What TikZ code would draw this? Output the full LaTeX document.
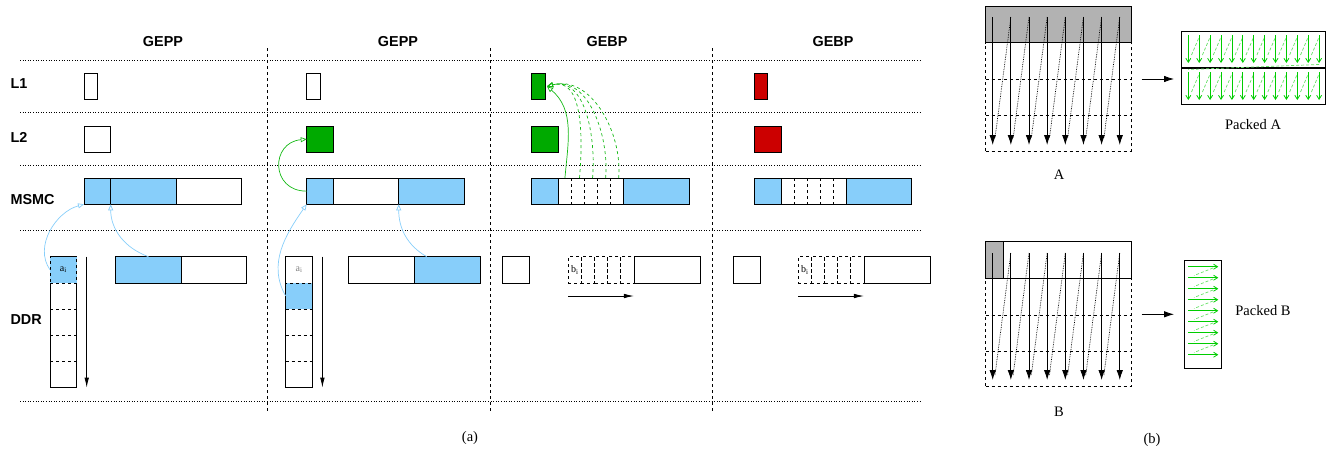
\documentclass[tikz,border=0pt]{standalone}
\usepackage{fontspec}
\setmainfont{Liberation Serif}
\setsansfont{Liberation Sans}
\usepackage{tikz}
\usetikzlibrary{arrows.meta, positioning}
\definecolor{memblue}{RGB}{135,206,250}
\definecolor{cachegreen}{RGB}{0,170,0}
\definecolor{cachered}{RGB}{204,0,0}
\definecolor{flowgreen}{RGB}{20,185,20}
\definecolor{packgreen}{RGB}{0,205,0}
\tikzset{
    box/.style={draw, line width=0.8pt, inner sep=0pt, outer sep=0pt, anchor=north west},
    lonebox/.style={box, minimum width=13.3pt, minimum height=26.7pt},
    ltwobox/.style={box, minimum width=26.6pt, minimum height=26.4pt},
    seg/.style={box, minimum height=26.3pt},
    ddrcell/.style={box, minimum width=26.7pt, minimum height=26.2pt},
    levellabel/.style={anchor=west, font=\sffamily\bfseries\fontsize{14.4}{17}\selectfont},
    kernellabel/.style={font=\sffamily\bfseries\fontsize{14.4}{17}\selectfont},
    caption/.style={font=\fontsize{14.5}{17}\selectfont},
    idx/.style={font=\fontsize{10}{12}\selectfont},
    rowsep/.style={line width=0.6pt, dotted},
    colsep/.style={line width=0.8pt, dashed},
    bluearrow/.style={memblue, line width=0.7pt, -{Triangle[open, length=6pt, width=5pt]}},
    greenarrow/.style={flowgreen, line width=0.7pt, -{Triangle[open, length=6pt, width=5pt]}},
    walk/.style={line width=0.8pt, -{Latex[length=10pt, width=4.5pt]}},
    matwalk/.style={line width=0.8pt, -{Latex[length=10pt, width=6.5pt]}},
    packarrow/.style={packgreen, line width=0.8pt, -{Straight Barb[length=4pt, width=5pt]}},
    packback/.style={packgreen!60, line width=0.7pt, dash pattern=on 3pt off 2pt}
}
\begin{document}
\begin{tikzpicture}[x=1pt, y=-1pt]
\useasboundingbox (0,0) rectangle (1335,453);

% (a)
\foreach \y in {60.5, 112.7, 165, 230.7, 401}
    \draw[rowsep] (20,\y) -- (922,\y);
\foreach \x in {267.5, 490, 712.7}
    \draw[colsep] (\x,48) -- (\x,413);

\node[kernellabel] (k1) at (163,42) {GEPP};
\node[kernellabel] (k2) at (398,42) {GEPP};
\node[kernellabel] (k3) at (607,42) {GEBP};
\node[kernellabel] (k4) at (833,42) {GEBP};

\node[levellabel] (lone) at (7,84) {L1};
\node[levellabel] (ltwo) at (7,137) {L2};
\node[levellabel] (lmsmc) at (7,200) {MSMC};
\node[levellabel] (lddr) at (7,320) {DDR};

% GEPP 1
\node[lonebox] (a1) at (84,73) {};
\node[ltwobox] (b1) at (84,126) {};
\node[seg, fill=memblue, minimum width=26.7pt] (m1a) at (84,178) {};
\node[seg, fill=memblue, minimum width=65.3pt, right=0pt of m1a] (m1b) {};
\node[seg, minimum width=65.3pt, right=0pt of m1b] (m1c) {};
\node[box, minimum width=26.7pt, minimum height=131pt] (d1) at (50,256.7) {};
\node[ddrcell, dashed, fill=memblue, idx] (ai1) at (50,256.7) {a\textsubscript{i}};
\foreach \y in {309.2, 335.4, 361.6}
    \draw[dashed] (50,\y) -- (76.7,\y);
\draw[walk] ([xshift=10pt]d1.north east) -- ([xshift=10pt]d1.south east);
\node[seg, fill=memblue, minimum width=65.6pt] (r1a) at (115.7,256.7) {};
\node[seg, minimum width=65.4pt, right=0pt of r1a] (r1b) {};
\draw[bluearrow] (ai1.west) to[out=125, in=195] (m1a.south west);
\draw[bluearrow] (r1a.north) to[out=160, in=-90] (m1b.south west);

% GEPP 2
\node[lonebox] (a2) at (306.7,73) {};
\node[ltwobox, fill=cachegreen] (b2) at (306.7,126) {};
\node[seg, fill=memblue, minimum width=26.7pt] (m2a) at (306.7,178) {};
\node[seg, minimum width=65.3pt, right=0pt of m2a] (m2b) {};
\node[seg, fill=memblue, minimum width=65.3pt, right=0pt of m2b] (m2c) {};
\node[box, minimum width=26.7pt, minimum height=131pt] (d2) at (285.7,256.7) {};
\node[ddrcell, draw=none, text=gray, idx] (ai2) at (285.7,256.7) {a\textsubscript{i}};
\node[ddrcell, dashed, fill=memblue, below=0pt of ai2] (c2) {};
\foreach \y in {335.4, 361.6}
    \draw[dashed] (285.7,\y) -- (312.4,\y);
\draw[walk] ([xshift=10pt]d2.north east) -- ([xshift=10pt]d2.south east);
\node[seg, minimum width=66pt] (r2a) at (348,256.7) {};
\node[seg, fill=memblue, minimum width=66pt, right=0pt of r2a] (r2b) {};
\draw[bluearrow] (c2.west) to[out=120, in=235] (m2a.south west);
\draw[bluearrow] ([xshift=12.7pt]r2b.north west) to[out=150, in=-90] (m2c.south west);
\draw[greenarrow] (m2a.west) to[out=180, in=185, looseness=1.8] (b2.west);

% GEBP 1
\node[lonebox, fill=cachegreen] (a3) at (531.7,73) {};
\node[ltwobox, fill=cachegreen] (b3) at (531.7,126) {};
\node[seg, fill=memblue, minimum width=26.7pt] (m3a) at (531.7,178) {};
\node[seg, minimum width=65.3pt, right=0pt of m3a] (m3b) {};
\node[seg, fill=memblue, minimum width=65.3pt, right=0pt of m3b] (m3c) {};
\foreach \k in {1,...,5}
    \node[seg, draw=none, minimum width=13.06pt] (p3\k) at ({558.4+13.06*(\k-1)},178) {};
\foreach \k in {1,...,4}
    \draw[dashed] (p3\k.north east) -- (p3\k.south east);
\node[ddrcell, minimum height=26.3pt] (s3) at (502.7,256.7) {};
\foreach \k in {1,...,5}
    \node[seg, dashed, minimum width=13.13pt] (q3\k) at ({568.3+13.13*(\k-1)},256.7) {};
\node[seg, minimum width=66pt, right=0pt of q35] (r3) {};
\node[idx] at (q31) {b\textsubscript{i}};
\draw[walk] ([yshift=-13pt]q31.south west) -- ([yshift=-13pt]q35.south east);
\draw[greenarrow] (p31.north) to[out=85, in=-40] ([xshift=2pt]a3.east);
\foreach \k in {2,...,5}
    \draw[greenarrow, dashed] ([xshift=1.5pt]p3\k.north) to[out=85, in=15] ([xshift=2pt]a3.east);

% GEBP 2
\node[lonebox, fill=cachered] (a4) at (754.3,73) {};
\node[ltwobox, fill=cachered] (b4) at (754.3,126) {};
\node[seg, fill=memblue, minimum width=26.7pt] (m4a) at (754.3,178) {};
\node[seg, minimum width=65.3pt, right=0pt of m4a] (m4b) {};
\node[seg, fill=memblue, minimum width=65.3pt, right=0pt of m4b] (m4c) {};
\foreach \k in {1,...,5}
    \node[seg, draw=none, minimum width=13.06pt] (p4\k) at ({781+13.06*(\k-1)},178) {};
\foreach \k in {1,...,4}
    \draw[dashed] (p4\k.north east) -- (p4\k.south east);
\node[ddrcell, minimum height=26.3pt] (s4) at (733.3,256.7) {};
\foreach \k in {1,...,5}
    \node[seg, dashed, minimum width=13.13pt] (q4\k) at ({798.3+13.13*(\k-1)},256.7) {};
\node[seg, minimum width=66pt, right=0pt of q45] (r4) {};
\node[idx] at (q41) {b\textsubscript{i}};
\draw[walk] ([yshift=-13pt]q41.south west) -- ([yshift=-13pt]q45.south east);

\node[caption] (capa) at (470,438) {(a)};

% (b)
\node[box, dashed, minimum width=145.3pt, minimum height=108.3pt] (abody) at (985.7,42.7) {};
\node[box, fill=gray!60, minimum width=145.3pt, minimum height=36.7pt] (atop) at (985.7,6) {};
\foreach \y in {79, 115}
    \draw[dashed] (985.7,\y) -- (1131,\y);
\foreach \j in {0,...,6}
    \draw[densely dotted, line width=0.7pt] ({992.7+18.15*(\j+1)},17) -- ({995+18.15*\j},138);
\foreach \j in {0,...,7}
    \draw[matwalk] ({992.7+18.15*\j},17) -- ({992.7+18.15*\j},145);
\node[caption] (la) at (1059,175) {A};

\node[box, minimum width=143.3pt, minimum height=36pt] (pa1) at (1181.7,31.7) {};
\node[box, minimum width=143.3pt, minimum height=35.6pt] (pa2) at (1181.7,68.7) {};
\foreach \k in {0,...,11} {
    \draw[packback] ({1191.5+10.9*\k},55) -- ({1188.3+10.9*(\k+1)},37);
    \draw[packback] ({1191.5+10.9*\k},92) -- ({1188.3+10.9*(\k+1)},74);
}
\draw[packback] (1319,64.5) -- (1188.3,69.5);
\foreach \k in {0,...,12} {
    \draw[packarrow] ({1188.3+10.9*\k},35) -- ({1188.3+10.9*\k},63);
    \draw[packarrow] ({1188.3+10.9*\k},72) -- ({1188.3+10.9*\k},100);
}
\node[caption] (packa) at (1253,125) {Packed A};
\coordinate (aout) at (1141.7,79);
\coordinate (ain) at (1174,79);
\draw[matwalk] (aout) -- (ain);

\node[box, dashed, minimum width=145.3pt, minimum height=108.4pt] (bbody) at (985.7,278.3) {};
\node[box, minimum width=145.3pt, minimum height=36.6pt] (btop) at (985.7,241.7) {};
\node[box, fill=gray!60, minimum width=17.6pt, minimum height=36.6pt] (bcell) at (985.7,241.7) {};
\foreach \y in {315, 350.7}
    \draw[dashed] (985.7,\y) -- (1131,\y);
\foreach \j in {0,...,6}
    \draw[densely dotted, line width=0.7pt] ({992.7+18.15*(\j+1)},253) -- ({995+18.15*\j},375);
\foreach \j in {0,...,7}
    \draw[matwalk] ({992.7+18.15*\j},253.3) -- ({992.7+18.15*\j},380);
\node[caption] (lb) at (1059,412) {B};

\node[box, minimum width=36.7pt, minimum height=108.3pt] (pb) at (1184.3,260) {};
\foreach \k in {0,...,7}
    \draw[packback] (1213,{268+11*\k}) -- (1194,{275.5+11*\k});
\foreach \k in {0,...,8}
    \draw[packarrow] (1188.3,{266.7+11*\k}) -- (1218.3,{266.7+11*\k});
\node[caption] (packb) at (1263,311) {Packed B};
\coordinate (bout) at (1141.7,314.3);
\coordinate (bin) at (1174,314.3);
\draw[matwalk] (bout) -- (bin);

\node[caption] (capb) at (1152,440) {(b)};
\end{tikzpicture}
\end{document}
